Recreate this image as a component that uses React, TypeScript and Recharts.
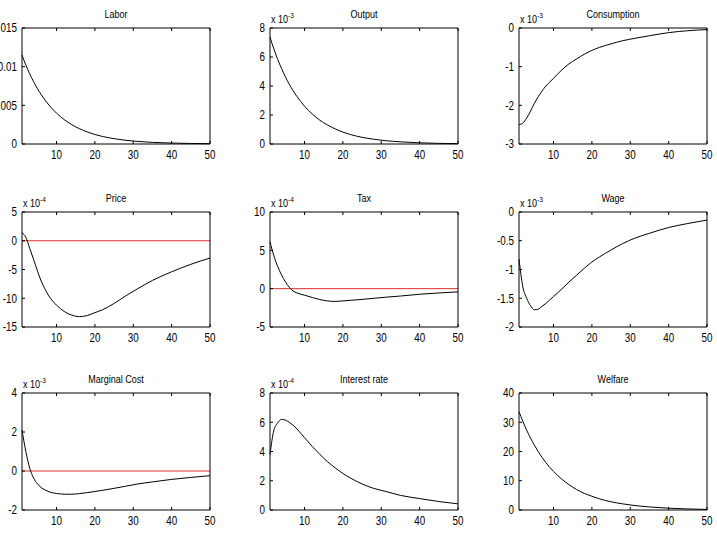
import React from 'react';
import { LineChart, Line, XAxis, YAxis, ReferenceLine } from 'recharts';

// Periods after the shock (horizon 1..50)
const PERIODS = [1, 2, 3, 4, 5, 6, 7, 8, 9, 10, 12, 14, 16, 18, 20, 22, 25, 28, 31, 35, 40, 45, 50];

// Impulse responses, in the units shown on each y axis
const LABOR = [0.0115, 0.0102, 0.00909, 0.00808, 0.00718, 0.00639, 0.00568, 0.00505, 0.00449, 0.00399, 0.00315, 0.00249, 0.00197, 0.00156, 0.00123, 0.00097, 0.00069, 0.00048, 0.00034, 0.00021, 0.00012, 0.00007, 0.00004];
const OUTPUT = [7.36, 6.56, 5.84, 5.21, 4.64, 4.13, 3.68, 3.28, 2.93, 2.61, 2.07, 1.64, 1.31, 1.04, 0.82, 0.65, 0.46, 0.33, 0.23, 0.15, 0.08, 0.045, 0.025];
const CONSUMPTION = [-2.5, -2.46, -2.33, -2.15, -1.95, -1.78, -1.63, -1.5, -1.4, -1.3, -1.1, -0.93, -0.8, -0.68, -0.58, -0.5, -0.41, -0.33, -0.27, -0.2, -0.12, -0.07, -0.04];
const PRICE = [1.4, 0.6, -1.3, -3.2, -5.2, -7.0, -8.4, -9.6, -10.5, -11.2, -12.3, -12.95, -13.2, -13.0, -12.5, -12.0, -10.9, -9.6, -8.4, -6.9, -5.4, -4.1, -3.0];
const TAX = [6.1, 4.3, 2.9, 1.8, 0.9, 0.2, -0.3, -0.55, -0.72, -0.85, -1.15, -1.42, -1.6, -1.66, -1.6, -1.52, -1.4, -1.26, -1.12, -0.96, -0.73, -0.56, -0.42];
const WAGE = [-0.82, -1.3, -1.5, -1.63, -1.7, -1.69, -1.64, -1.59, -1.53, -1.47, -1.35, -1.22, -1.1, -0.98, -0.87, -0.78, -0.66, -0.55, -0.46, -0.37, -0.27, -0.2, -0.14];
const MARGINAL_COST = [2.1, 1.0, 0.15, -0.35, -0.65, -0.85, -0.97, -1.06, -1.12, -1.15, -1.19, -1.19, -1.16, -1.11, -1.05, -0.99, -0.89, -0.78, -0.67, -0.56, -0.43, -0.33, -0.24];
const INTEREST_RATE = [3.8, 5.45, 5.95, 6.2, 6.15, 6.0, 5.8, 5.55, 5.25, 4.95, 4.35, 3.8, 3.3, 2.88, 2.5, 2.18, 1.78, 1.48, 1.28, 1.0, 0.78, 0.58, 0.42];
const WELFARE = [33.6, 30.3, 27.3, 24.6, 22.2, 20.0, 18.0, 16.2, 14.6, 13.2, 10.7, 8.7, 7.0, 5.7, 4.7, 3.8, 2.8, 2.1, 1.55, 1.05, 0.62, 0.36, 0.2];

const X_TICKS = [10, 20, 30, 40, 50];

const FONT = '"Liberation Sans", Arial, Helvetica, sans-serif';
const SQUEEZE = 0.82; // narrow Helvetica look
const TICK_LEN = 3;

// subplot grid geometry
const COL_X = [22, 270, 519];
const ROW_Y = [28, 212, 393];
const ROW_H = [116, 115, 117];
const PLOT_W = 188;
const Y_AXIS_W = 45;
const X_AXIS_H = 25;
const PAD = 8;
const X_LABEL_GAP = 6;
const Y_LABEL_GAP = 5;

type Panel = {
  title: string;
  values: number[];
  domain: [number, number];
  ticks: number[];
  exponent?: string;
  zeroLine?: boolean;
  row: number;
  col: number;
};

const PANELS: Panel[] = [
  { title: 'Labor', values: LABOR, domain: [0, 0.015], ticks: [0, 0.005, 0.01, 0.015], row: 0, col: 0 },
  { title: 'Output', values: OUTPUT, domain: [0, 8], ticks: [0, 2, 4, 6, 8], exponent: '-3', row: 0, col: 1 },
  { title: 'Consumption', values: CONSUMPTION, domain: [-3, 0], ticks: [-3, -2, -1, 0], exponent: '-3', row: 0, col: 2 },
  { title: 'Price', values: PRICE, domain: [-15, 5], ticks: [-15, -10, -5, 0, 5], exponent: '-4', zeroLine: true, row: 1, col: 0 },
  { title: 'Tax', values: TAX, domain: [-5, 10], ticks: [-5, 0, 5, 10], exponent: '-4', zeroLine: true, row: 1, col: 1 },
  { title: 'Wage', values: WAGE, domain: [-2, 0], ticks: [-2, -1.5, -1, -0.5, 0], exponent: '-3', row: 1, col: 2 },
  { title: 'Marginal Cost', values: MARGINAL_COST, domain: [-2, 4], ticks: [-2, 0, 2, 4], exponent: '-3', zeroLine: true, row: 2, col: 0 },
  { title: 'Interest rate', values: INTEREST_RATE, domain: [0, 8], ticks: [0, 2, 4, 6, 8], exponent: '-4', row: 2, col: 1 },
  { title: 'Welfare', values: WELFARE, domain: [0, 40], ticks: [0, 10, 20, 30, 40], row: 2, col: 2 },
];

// MATLAB-style ticks: short marks pointing into the box, labels outside
function BottomTick(props: any) {
  const { x, y, payload } = props;
  const edge = y - X_LABEL_GAP;
  return (
    <g>
      <line x1={x} x2={x} y1={edge} y2={edge - TICK_LEN} stroke="#000" />
      <text
        transform={`translate(${x},${y}) scale(${SQUEEZE},1)`}
        textAnchor="middle"
        dy="0.71em"
        fontSize={12}
        fontFamily={FONT}
        fill="#000"
      >
        {payload.value}
      </text>
    </g>
  );
}

function LeftTick(props: any) {
  const { x, y, payload } = props;
  const edge = x + Y_LABEL_GAP;
  return (
    <g>
      <line x1={edge} x2={edge + TICK_LEN} y1={y} y2={y} stroke="#000" />
      <text
        transform={`translate(${x},${y}) scale(${SQUEEZE},1)`}
        textAnchor="end"
        dy="0.36em"
        fontSize={12}
        fontFamily={FONT}
        fill="#000"
      >
        {String(payload.value)}
      </text>
    </g>
  );
}

function TopTick(props: any) {
  const { x, y } = props;
  return <line x1={x} x2={x} y1={y} y2={y + TICK_LEN} stroke="#000" />;
}

function RightTick(props: any) {
  const { x, y } = props;
  return <line x1={x} x2={x - TICK_LEN} y1={y} y2={y} stroke="#000" />;
}

function Subplot({ panel }: { panel: Panel }) {
  const px = COL_X[panel.col];
  const py = ROW_Y[panel.row];
  const ph = ROW_H[panel.row];
  const data = PERIODS.map((t, i) => ({ t, v: panel.values[i] }));
  const width = PLOT_W + Y_AXIS_W + PAD;
  const height = ph + PAD + X_AXIS_H;

  return (
    <>
      <div
        style={{
          position: 'absolute',
          left: px + PLOT_W / 2,
          top: py - 14,
          transform: `translate(-50%, -50%) scaleX(${SQUEEZE})`,
          fontFamily: FONT,
          fontSize: 11,
          whiteSpace: 'nowrap',
          lineHeight: 1,
        }}
      >
        {panel.title}
      </div>
      {panel.exponent && (
        <div
          style={{
            position: 'absolute',
            left: px + 1,
            top: py - 16,
            transform: `scaleX(${SQUEEZE})`,
            transformOrigin: 'left top',
            fontFamily: FONT,
            fontSize: 11,
            whiteSpace: 'nowrap',
            lineHeight: 1,
          }}
        >
          x 10<sup style={{ fontSize: 8, verticalAlign: 5 }}>{panel.exponent}</sup>
        </div>
      )}
      <div style={{ position: 'absolute', left: px - Y_AXIS_W, top: py - PAD }}>
        <LineChart width={width} height={height} data={data} margin={{ top: PAD - 1, right: PAD - 1, left: 0, bottom: 0 }}>
          <XAxis
            dataKey="t"
            type="number"
            domain={[1, 50]}
            ticks={X_TICKS}
            interval={0}
            height={X_AXIS_H}
            tickLine={false}
            tickSize={0}
            tickMargin={X_LABEL_GAP}
            tick={<BottomTick />}
            stroke="#000"
          />
          <XAxis
            xAxisId="top"
            orientation="top"
            dataKey="t"
            type="number"
            domain={[1, 50]}
            ticks={X_TICKS}
            interval={0}
            height={1}
            tickLine={false}
            tickSize={0}
            tickMargin={0}
            tick={<TopTick />}
            stroke="#000"
          />
          <YAxis
            type="number"
            domain={panel.domain}
            ticks={panel.ticks}
            interval={0}
            width={Y_AXIS_W}
            tickLine={false}
            tickSize={0}
            tickMargin={Y_LABEL_GAP}
            tick={<LeftTick />}
            stroke="#000"
          />
          <YAxis
            yAxisId="right"
            orientation="right"
            type="number"
            domain={panel.domain}
            ticks={panel.ticks}
            interval={0}
            width={1}
            tickLine={false}
            tickSize={0}
            tickMargin={0}
            tick={<RightTick />}
            stroke="#000"
          />
          {panel.zeroLine && <ReferenceLine y={0} stroke="#e0302c" strokeWidth={1} />}
          <Line
            type="monotone"
            dataKey="v"
            stroke="#000"
            strokeWidth={1}
            dot={false}
            isAnimationActive={false}
          />
        </LineChart>
      </div>
    </>
  );
}

export default function App() {
  return (
    <div style={{ position: 'absolute', left: 0, top: 0, width: 717, height: 539, background: '#fff', overflow: 'hidden' }}>
      {PANELS.map((p) => (
        <Subplot key={p.title} panel={p} />
      ))}
    </div>
  );
}
